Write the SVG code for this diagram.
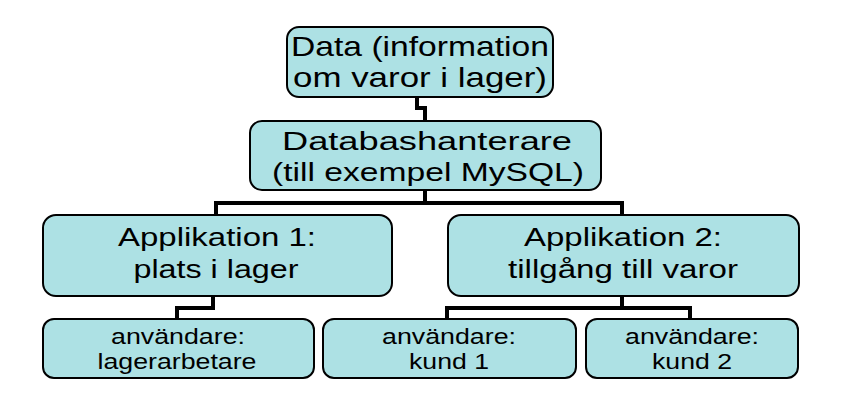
<svg xmlns="http://www.w3.org/2000/svg" width="843" height="402" viewBox="0 0 843 402">
<style>
.box{fill:#ADE1E4;stroke:#000;stroke-width:2}
.conn{fill:none;stroke:#000;stroke-width:4;stroke-linejoin:miter}
text{font-family:"Liberation Sans",Arial,sans-serif;fill:#000;text-anchor:middle}
.t1{font-size:27.5px}
.t2{font-size:26.5px}
.t3{font-size:26.5px}
.t4{font-size:22px}
</style>
<rect width="843" height="402" fill="#fff"/>
<g id="connectors">
<polyline class="conn" points="417,97 417,108 425,108 425,121"/>
<polyline class="conn" points="425,190 425,203"/>
<polyline class="conn" points="216,215 216,203 622,203 622,215"/>
<polyline class="conn" points="213,296 213,308 177,308 177,319"/>
<polyline class="conn" points="622,296 622,308"/>
<polyline class="conn" points="447,319 447,308 690,308 690,319"/>
</g>
<g id="data">
<rect class="box" x="287" y="27" width="266" height="70" rx="12"/>
<text class="t1" x="420" y="56" textLength="258" lengthAdjust="spacingAndGlyphs">Data (information</text>
<text class="t1" x="420" y="87" textLength="254" lengthAdjust="spacingAndGlyphs">om varor i lager)</text>
</g>
<g id="dbms">
<rect class="box" x="250" y="121" width="351" height="69" rx="12"/>
<text class="t2" x="427" y="150" textLength="290" lengthAdjust="spacingAndGlyphs">Databashanterare</text>
<text class="t2" x="428" y="181" textLength="312" lengthAdjust="spacingAndGlyphs">(till exempel MySQL)</text>
</g>
<g id="app1">
<rect class="box" x="43" y="215" width="349" height="81" rx="13"/>
<text class="t3" x="217" y="246" textLength="198" lengthAdjust="spacingAndGlyphs">Applikation 1:</text>
<text class="t3" x="216" y="278" textLength="165" lengthAdjust="spacingAndGlyphs">plats i lager</text>
</g>
<g id="app2">
<rect class="box" x="448" y="215" width="351" height="81" rx="13"/>
<text class="t3" x="623" y="246" textLength="198" lengthAdjust="spacingAndGlyphs">Applikation 2:</text>
<text class="t3" x="623" y="278" textLength="230" lengthAdjust="spacingAndGlyphs">tillgång till varor</text>
</g>
<g id="user-lager">
<rect class="box" x="43" y="319" width="271" height="59" rx="11"/>
<text class="t4" x="178" y="344" textLength="134" lengthAdjust="spacingAndGlyphs">användare:</text>
<text class="t4" x="177" y="369" textLength="159" lengthAdjust="spacingAndGlyphs">lagerarbetare</text>
</g>
<g id="user-kund1">
<rect class="box" x="323" y="319" width="253" height="59" rx="11"/>
<text class="t4" x="449" y="344" textLength="134" lengthAdjust="spacingAndGlyphs">användare:</text>
<text class="t4" x="449" y="369" textLength="80" lengthAdjust="spacingAndGlyphs">kund 1</text>
</g>
<g id="user-kund2">
<rect class="box" x="586" y="319" width="212" height="59" rx="11"/>
<text class="t4" x="692" y="344" textLength="134" lengthAdjust="spacingAndGlyphs">användare:</text>
<text class="t4" x="692" y="369" textLength="80" lengthAdjust="spacingAndGlyphs">kund 2</text>
</g>
</svg>
